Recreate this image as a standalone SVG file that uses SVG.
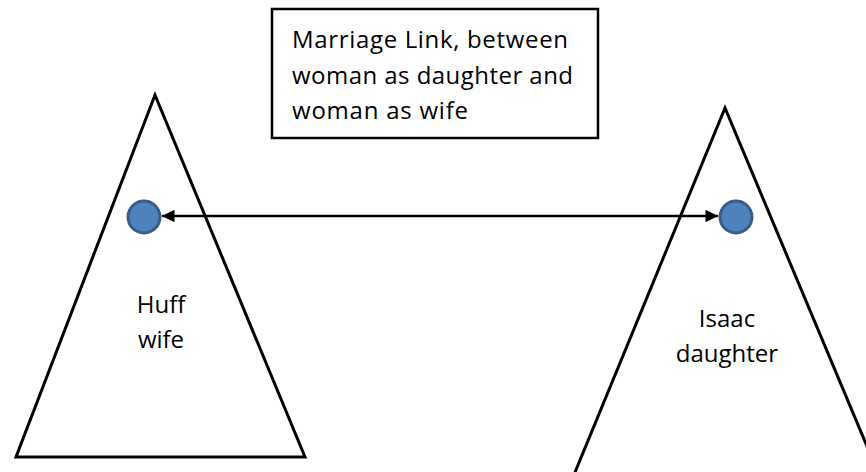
<svg xmlns="http://www.w3.org/2000/svg" width="866" height="472" viewBox="0 0 866 472">
  <style>
    .tri { fill: none; stroke: #000; stroke-width: 3; stroke-linejoin: miter; }
    .dot { fill: #4f81bd; stroke: #385d8a; stroke-width: 3; }
    .lbl { font-family: "Open Sans", "Liberation Sans", sans-serif; font-size: 24px; fill: #000; text-anchor: middle; }
    .note { font-family: "Open Sans", "Liberation Sans", sans-serif; font-size: 24px; fill: #000; }
    .link { stroke: #000; stroke-width: 2.5; fill: none; }
  </style>
  <defs>
    <marker id="head" viewBox="0 0 10 10" refX="10" refY="5" markerWidth="6" markerHeight="5" markerUnits="strokeWidth" orient="auto-start-reverse">
      <path d="M0,0 L10,5 L0,10 Z" fill="#000"/>
    </marker>
  </defs>
  <rect width="866" height="472" fill="#fff"/>

  <g id="huff">
    <polygon class="tri" points="155,95 16,457 305,457"/>
    <text class="lbl" x="161" y="313">Huff</text>
    <text class="lbl" x="161" y="348">wife</text>
  </g>

  <g id="isaac">
    <polygon class="tri" points="725,108 571,482 882,482"/>
    <text class="lbl" x="727" y="327">Isaac</text>
    <text class="lbl" x="727" y="362">daughter</text>
  </g>

  <g id="note">
    <rect x="272" y="9" width="326" height="129" fill="#fff" stroke="#000" stroke-width="2.5"/>
    <text class="note" x="292" y="48" textLength="276" lengthAdjust="spacing">Marriage Link, between</text>
    <text class="note" x="292" y="84" textLength="281" lengthAdjust="spacing">woman as daughter and</text>
    <text class="note" x="292" y="119" textLength="176" lengthAdjust="spacing">woman as wife</text>
  </g>

  <g id="connectors">
    <line class="link" x1="162" y1="216" x2="718" y2="216" marker-start="url(#head)" marker-end="url(#head)"/>
  </g>

  <g id="huff-dot">
    <circle class="dot" cx="144" cy="217" r="16"/>
  </g>
  <g id="isaac-dot">
    <circle class="dot" cx="736" cy="217" r="16"/>
  </g>
</svg>
